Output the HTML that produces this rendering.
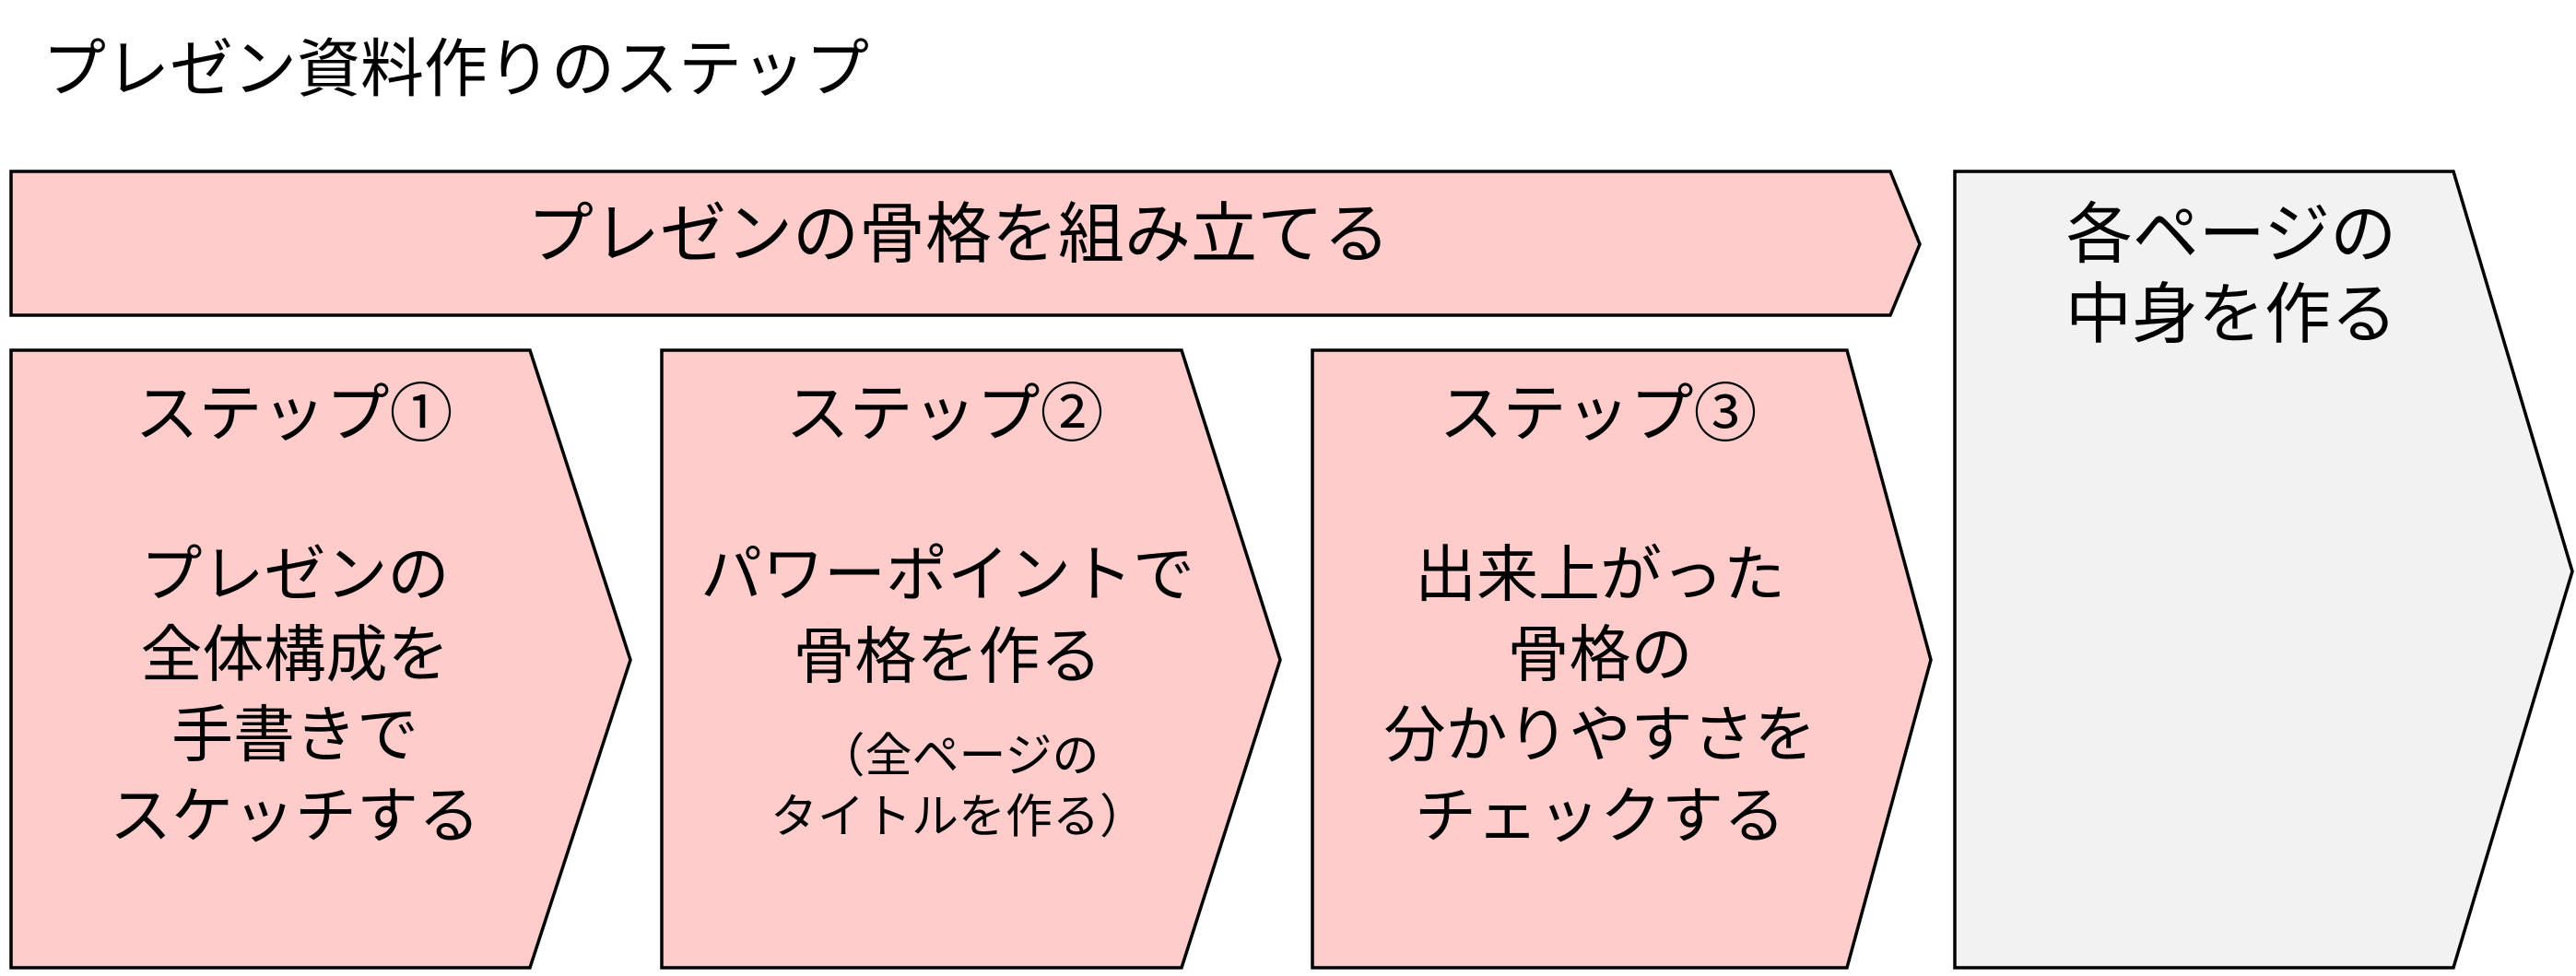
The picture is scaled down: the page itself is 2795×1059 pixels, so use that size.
<!DOCTYPE html>
<html><head><meta charset="utf-8"><style>
html,body{margin:0;padding:0;background:#fff;}
svg text{font-family:"Liberation Sans","Noto Sans CJK JP",sans-serif;fill:#000;}
</style></head><body>
<svg width="2795" height="1054" viewBox="0 0 2795 1054" xmlns="http://www.w3.org/2000/svg">
<rect width="2795" height="1054" fill="#fff"/>
<text x="46" y="75" font-size="69" dominant-baseline="central">プレゼン資料作りのステップ</text>
<g stroke="#000" stroke-width="3.5" stroke-linejoin="miter">
<polygon points="12,186 2051,186 2083,265 2051,342 12,342" fill="#ffcccc"/>
<polygon points="12,380 575,380 684,716 575,1050 12,1050" fill="#ffcccc"/>
<polygon points="718,380 1282,380 1389,716 1282,1050 718,1050" fill="#ffcccc"/>
<polygon points="1424,380 2004,380 2095,716 2004,1050 1424,1050" fill="#ffcccc"/>
<polygon points="2121,186 2662,186 2791,620 2662,1050 2121,1050" fill="#f2f2f2"/>
</g>
<g font-size="72" text-anchor="middle" dominant-baseline="central">
<text x="1040" y="255">プレゼンの骨格を組み立てる</text>
<text x="2421" y="255">各ページの</text>
<text x="2421" y="342">中身を作る</text>
</g>
<g font-size="69" text-anchor="middle" dominant-baseline="central">
<text x="319" y="449">ステップ①</text>
<text x="1025" y="449">ステップ②</text>
<text x="1734" y="449">ステップ③</text>
</g>
<g font-size="67" text-anchor="middle" dominant-baseline="central">
<text x="320" y="624">プレゼンの</text>
<text x="320" y="711">全体構成を</text>
<text x="320" y="798">手書きで</text>
<text x="320" y="886">スケッチする</text>
<text x="1028" y="624">パワーポイントで</text>
<text x="1028" y="713">骨格を作る</text>
<text x="1736" y="624">出来上がった</text>
<text x="1736" y="711">骨格の</text>
<text x="1736" y="798">分かりやすさを</text>
<text x="1736" y="886">チェックする</text>
</g>
<g font-size="51" text-anchor="middle" dominant-baseline="central">
<text x="1040" y="820">（全ページの</text>
<text x="1040" y="886">タイトルを作る）</text>
</g>
</svg>
</body></html>
